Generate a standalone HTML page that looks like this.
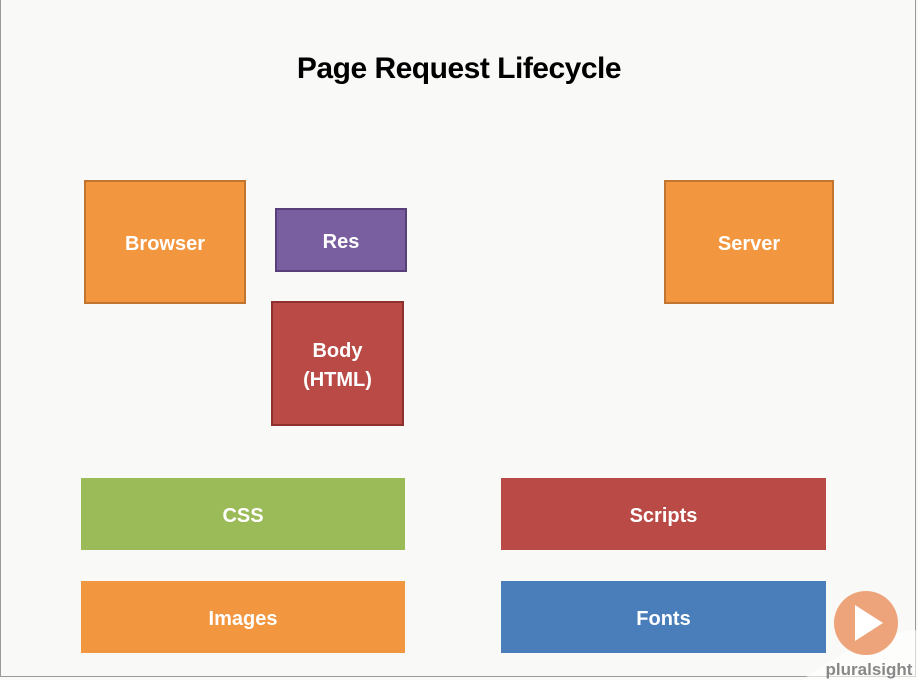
<!DOCTYPE html>
<html><head><style>
body{margin:0;width:918px;height:680px;background:#f9f9f7;position:relative;overflow:hidden;font-family:"Liberation Sans",sans-serif}
.frame{position:absolute;left:0;top:0;width:914px;height:676px;border:1px solid #9a9a9a;border-top:none}
.t{position:absolute;left:0;width:918px;top:52px;text-align:center;font-size:30px;font-weight:bold;color:#000;letter-spacing:-0.5px}
.b{position:absolute;box-sizing:border-box;display:flex;align-items:center;justify-content:center;text-align:center;color:#fff;font-weight:bold;font-size:20px;line-height:29px;padding-top:4px}
</style></head><body>
<div class="frame"></div>
<div class="t">Page Request Lifecycle</div>
<div class="b" style="left:84px;top:180px;width:162px;height:124px;background:#f2963f;border:2px solid #c2752f">Browser</div>
<div class="b" style="left:275px;top:208px;width:132px;height:64px;background:#7a5fa0;border:2px solid #574178">Res</div>
<div class="b" style="left:271px;top:301px;width:133px;height:125px;background:#b94a46;border:2px solid #8e302e">Body<br>(HTML)</div>
<div class="b" style="left:664px;top:180px;width:170px;height:124px;background:#f2963f;border:2px solid #c2752f">Server</div>
<div class="b" style="left:81px;top:478px;width:324px;height:72px;background:#9bbb59">CSS</div>
<div class="b" style="left:501px;top:478px;width:325px;height:72px;background:#b94a46">Scripts</div>
<div class="b" style="left:81px;top:581px;width:324px;height:72px;background:#f2963f">Images</div>
<div class="b" style="left:501px;top:581px;width:325px;height:72px;background:#4a7ebb">Fonts</div>
<svg style="position:absolute;left:782px;top:580px" width="136" height="100">
<path d="M20 100 Q80 55 136 50 L136 100 Z" fill="#ffffff" opacity="0.6"/>
<circle cx="84" cy="43" r="32" fill="#eea47a"/>
<path d="M73 25 L101 43 L73 61 Z" fill="#fff"/>
<text x="87" y="95" text-anchor="middle" font-family="Liberation Sans" font-weight="bold" font-size="17" fill="#888">pluralsight</text>
</svg>
</body></html>
